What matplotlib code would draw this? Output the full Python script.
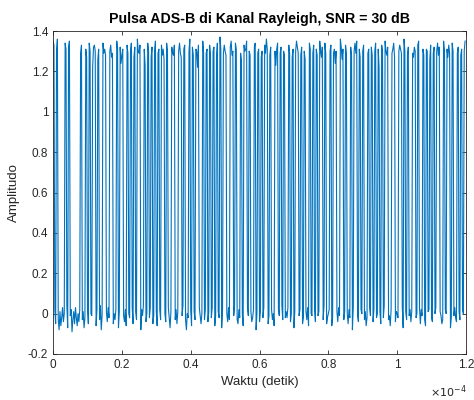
import numpy as np
import matplotlib
matplotlib.use('Agg')
from matplotlib import pyplot as plt
from matplotlib.ticker import FuncFormatter

plt.rcParams['font.family'] = ['Liberation Sans', 'DejaVu Sans']
plt.rcParams['axes.unicode_minus'] = False

# preamble ADS-B (8 us = 16 chip @ 0.5 us)
preamble = [1, 0, 1, 0, 0, 0, 0, 1, 0, 1, 0, 0, 0, 0, 0, 0]

# 112 bit data (PPM)
bits = [1, 0, 0, 0, 1, 1, 0, 1, 0, 1, 0, 0, 1, 0, 0, 0,
        0, 1, 0, 0, 0, 0, 0, 0, 1, 1, 0, 1, 0, 1, 1, 0,
        0, 0, 1, 0, 0, 0, 0, 0, 0, 0, 1, 0, 1, 1, 0, 0,
        1, 1, 0, 0, 0, 0, 1, 1, 0, 1, 1, 1, 0, 0, 0, 1,
        1, 1, 0, 0, 0, 0, 1, 1, 0, 0, 1, 0, 1, 1, 0, 0,
        1, 1, 1, 0, 0, 0, 0, 0, 0, 1, 0, 1, 0, 1, 1, 1,
        0, 1, 1, 0, 0, 0, 0, 0, 1, 0, 0, 1, 1, 0, 0, 0]

# amplitudo sampel saat pulsa tinggi
high_vals = [
    1.35, 1.33, 1.30, 1.36, 1.34, 1.31, 1.32, 1.35,
    1.29, 1.33, 1.31, 1.27, 1.34, 1.30, 1.22, 1.32,
    1.33, 1.30, 1.26, 1.31, 1.34, 1.29, 1.31, 1.28,
    1.30, 1.33, 1.27, 1.29, 1.35, 1.31, 1.32, 1.24,
    1.28, 1.31, 1.33, 1.29, 1.30, 1.34, 1.27, 1.32,
    1.36, 1.30, 1.29, 1.33, 1.31, 1.23, 1.34, 1.30,
    1.27, 1.32, 1.30, 1.35, 1.29, 1.31, 1.33, 1.28,
    1.31, 1.26, 1.34, 1.30, 1.32, 1.29, 1.28, 1.33,
    1.30, 1.34, 1.29, 1.27, 1.31, 1.33, 1.30, 1.36,
    1.32, 1.28, 1.31, 1.30, 1.22, 1.33, 1.35, 1.29,
    1.29, 1.31, 1.33, 1.28, 1.30, 1.32, 1.27, 1.34,
    1.37, 1.31, 1.29, 1.33, 1.30, 1.28, 1.32, 1.35,
    1.28, 1.30, 1.34, 1.31, 1.29, 1.25, 1.33, 1.30,
    1.31, 1.35, 1.30, 1.28, 1.32, 1.34, 1.29, 1.31,
    1.27, 1.30, 1.33, 1.29, 1.36, 1.31, 1.28, 1.32,
    1.30, 1.23, 1.31, 1.34, 1.29, 1.32, 1.30, 1.28,
    1.33, 1.29, 1.27, 1.31, 1.30, 1.35, 1.32, 1.29,
    1.28, 1.32, 1.30, 1.26, 1.34, 1.31, 1.29, 1.33,
    1.31, 1.28, 1.35, 1.30, 1.27, 1.32, 1.34, 1.29,
    1.30, 1.33, 1.29, 1.31, 1.24, 1.30, 1.36, 1.32,
    1.26, 1.31, 1.33, 1.29, 1.32, 1.28, 1.30, 1.34,
    1.29, 1.35, 1.31, 1.27, 1.30, 1.33, 1.29, 1.31,
    1.32, 1.28, 1.30, 1.34, 1.31, 1.22, 1.33, 1.30,
    1.35, 1.30, 1.28, 1.32, 1.29, 1.31, 1.34, 1.27,
    1.30, 1.33, 1.31, 1.29, 1.36, 1.30, 1.28, 1.32,
    1.29, 1.27, 1.32, 1.30, 1.33, 1.35, 1.31, 1.28,
    1.31, 1.30, 1.26, 1.33, 1.29, 1.32, 1.30, 1.34,
    1.28, 1.32, 1.35, 1.30, 1.31, 1.27, 1.33, 1.29,
    1.34, 1.30, 1.29, 1.32, 1.28, 1.31, 1.30, 1.35]

# amplitudo sampel saat pulsa rendah
low_vals = [
    0.02, -0.05, -0.03, -0.08, 0.01, -0.06, -0.02, 0.03,
    -0.04, 0.00, 0.04, -0.07, -0.01, 0.02, -0.09, -0.03,
    0.01, -0.05, 0.03, -0.02, -0.06, 0.00, -0.04, 0.02,
    -0.03, 0.01, -0.07, -0.02, 0.03, -0.05, 0.00, -0.01,
    -0.06, 0.02, -0.03, 0.04, -0.08, -0.01, 0.01, -0.04,
    0.03, -0.02, -0.05, 0.00, -0.03, 0.02, -0.07, 0.01,
    -0.01, -0.04, 0.02, -0.06, 0.00, -0.02, 0.03, -0.05,
    0.01, -0.03, -0.08, 0.02, -0.01, 0.04, -0.04, 0.00,
    -0.02, 0.03, -0.05, -0.01, 0.01, -0.06, 0.02, -0.03,
    0.00, -0.04, 0.03, -0.02, -0.07, 0.01, -0.03, 0.02,
    -0.05, 0.01, -0.01, 0.04, -0.03, -0.08, 0.00, -0.02,
    0.02, -0.06, 0.01, -0.03, 0.03, -0.01, -0.05, 0.00,
    -0.03, 0.02, -0.04, 0.01, -0.02, 0.03, -0.06, -0.01,
    0.01, -0.02, -0.07, 0.02, 0.00, -0.04, 0.03, -0.03,
    -0.01, 0.04, -0.03, -0.05, 0.02, -0.02, 0.00, -0.06,
    0.03, -0.01, 0.01, -0.04, -0.02, 0.02, -0.08, 0.00,
    -0.04, 0.01, -0.02, 0.03, -0.05, -0.01, 0.02, -0.03,
    0.00, -0.06, 0.02, -0.01, 0.04, -0.03, -0.02, 0.01,
    -0.02, 0.03, -0.04, 0.00, -0.07, 0.01, -0.01, 0.02,
    -0.05, -0.02, 0.01, -0.03, 0.03, -0.06, 0.00, -0.01,
    0.02, -0.04, -0.01, 0.01, -0.03, 0.04, -0.05, -0.02,
    0.00, 0.02, -0.06, -0.02, 0.01, -0.04, 0.03, -0.01,
    -0.03, 0.01, 0.00, -0.05, 0.02, -0.02, -0.08, 0.03,
    -0.01, -0.04, 0.02, 0.00, -0.03, 0.01, -0.06, -0.02,
    0.03, -0.01, -0.04, 0.02, -0.02, 0.00, 0.01, -0.05,
    -0.02, 0.04, -0.03, -0.01, -0.06, 0.02, -0.04, 0.01,
    0.00, -0.02, 0.03, -0.07, 0.01, -0.03, -0.01, 0.02,
    -0.04, 0.01, -0.02, 0.00, 0.03, -0.05, 0.02, -0.01,
    -0.03, -0.06, 0.01, 0.02, -0.02, -0.04, 0.00, 0.03,
    0.01, -0.01, -0.05, -0.03, 0.02, 0.00, -0.07, -0.02,
    -0.01, 0.03, -0.02, -0.04, 0.01, -0.03, 0.02, 0.00]

chip_dur = 0.5e-6
spc = 2  # sampel per chip

chips = preamble + [c for b in bits for c in ((1, 0) if b else (0, 1))]
levels = np.repeat(chips, spc)
hi = iter(high_vals)
lo = iter(low_vals)
amp = np.array([next(hi) if l else next(lo) for l in levels])
t = np.arange(len(amp)) * chip_dur / spc

fig = plt.figure(figsize=(4.74, 4.0), dpi=100)
ax = fig.add_axes([0.112, 0.115, 0.871, 0.8075])
ax.plot(t, amp, color='#0072BD', linewidth=0.8)

ax.set_xlim(0, 1.2e-4)
ax.set_ylim(-0.2, 1.4)
ax.set_xticks(np.arange(0, 1.21e-4, 0.2e-4))
ax.set_yticks(np.arange(-0.2, 1.41, 0.2))
ax.xaxis.set_major_formatter(FuncFormatter(lambda v, p: f"{v / 1e-4:.1f}".rstrip('0').rstrip('.')))
ax.yaxis.set_major_formatter(FuncFormatter(lambda v, p: f"{v:.1f}".rstrip('0').rstrip('.') if abs(v) > 1e-9 else '0'))

gray = '#262626'
ax.tick_params(direction='in', top=True, right=True, length=3, width=0.6,
               labelsize=8.5, colors=gray)
for s in ax.spines.values():
    s.set_color(gray)
    s.set_linewidth(0.6)

ax.set_title('Pulsa ADS-B di Kanal Rayleigh, SNR = 30 dB', fontsize=10.2,
             fontweight='bold', pad=6)
ax.set_xlabel('Waktu (detik)', fontsize=9.5, color=gray, labelpad=4)
ax.set_ylabel('Amplitudo', fontsize=9.5, color=gray, labelpad=6)
fig.text(0.985, 0.008, r'$\times10^{-4}$', fontsize=8, color=gray, ha='right')

fig.savefig('out.png', dpi=100)
